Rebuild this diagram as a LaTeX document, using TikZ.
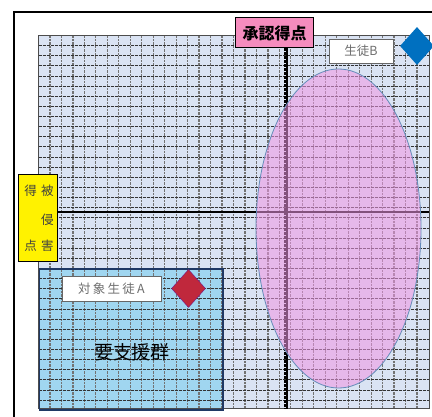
\documentclass[tikz,border=0pt]{standalone}
\usepackage{fontspec}
\newfontfamily\jp{Noto Sans CJK JP}
\usetikzlibrary{shapes.geometric}
\definecolor{gridbg}{RGB}{218,227,243}
\definecolor{supbg}{RGB}{160,214,240}
\definecolor{supedge}{RGB}{31,56,100}
\definecolor{ellfill}{RGB}{240,150,228}
\definecolor{elledge}{RGB}{100,140,185}
\definecolor{pinkbox}{RGB}{245,140,190}
\definecolor{bluedia}{RGB}{0,112,192}
\definecolor{reddia}{RGB}{192,40,60}
\definecolor{txtgray}{RGB}{110,110,110}
\tikzset{
  hline/.style={black!80,line width=0.9pt,dash pattern=on 3pt off 1pt},
  vline/.style={black!55,line width=1.2pt,dash pattern=on 2.5pt off 1pt},
  labelbox/.style={draw=black!60,fill=white,line width=0.8pt,inner sep=0pt,text=txtgray,font=\jp\fontsize{12.5}{14}\selectfont},
  dia/.style={shape=diamond,inner sep=0pt,minimum width=34pt,minimum height=38pt},
  ychar/.style={font=\jp\fontsize{12.5}{14}\selectfont,text=black!75,inner sep=0pt}
}
\begin{document}
\begin{tikzpicture}[x=1pt,y=-1pt]
\useasboundingbox (0,0) rectangle (432,417);
\fill[white] (0,0) rectangle (432,417);
% outer frame
\draw[black,line width=1.6pt] (14,430) -- (14,12) -- (440,12);
% grid background
\fill[gridbg] (38.5,35.5) rectangle (429,409);
% support group fill
\fill[supbg] (38.5,268) rectangle (222,409);
% grid lines
\foreach \k in {1,...,33} {\draw[vline] ({38.5+\k*11.47},35.5) -- ({38.5+\k*11.47},409);}
\foreach \k in {1,...,36} {\draw[hline] (38.5,{35.5+\k*10.13}) -- (429,{35.5+\k*10.13});}
\draw[black!70,line width=1pt] (38.5,35.5) rectangle (429,409);
% support group border
\node[draw=supedge,line width=1.8pt,minimum width=183.5pt,minimum height=141pt,inner sep=0pt,anchor=north west] (sup) at (38.5,268) {};
% axes
\coordinate (xl) at (57,212);
\coordinate (xr) at (429,212);
\coordinate (yt) at (286,48);
\coordinate (yb) at (286,409);
\draw[black,line width=2.6pt] (xl) -- (xr);
\draw[black,line width=2pt] ([xshift=0.8pt]yt) -- ([xshift=0.8pt]yb);
\draw[black,line width=4pt,dash pattern=on 2.6pt off 1.4pt] ([xshift=-0.4pt]yt) -- ([xshift=-0.4pt]yb);
% ellipse
\node[ellipse,fill=ellfill,fill opacity=0.55,draw=elledge,draw opacity=1,line width=0.8pt,minimum width=165pt,minimum height=319pt,inner sep=0pt] (ell) at (338.5,228.5) {};
% y-axis label
\node[draw=black,fill=pinkbox,line width=1pt,minimum width=78pt,minimum height=30pt,inner sep=0pt,font=\jp\bfseries\fontsize{16}{18}\selectfont] (ylab) at (274.5,33) {承認得点};
% x-axis label (yellow)
\node[draw=black,fill=yellow,line width=1pt,minimum width=39pt,minimum height=87pt,inner sep=0pt,anchor=north west] (xlab) at (18,174) {};
\node[ychar] (c1) at (30.5,190.5) {得};
\node[ychar] (c2) at (47.5,190.5) {被};
\node[ychar] (c3) at (47.5,219.5) {侵};
\node[ychar] (c4) at (30.5,246) {点};
\node[ychar] (c5) at (47.5,246) {害};
% student B
\node[labelbox,minimum width=64pt,minimum height=24pt] (sb) at (361,51) {生徒B};
\node[dia,fill=bluedia] (db) at (417,46) {};
% student A
\node[labelbox,minimum width=99pt,minimum height=25pt] (sa) at (111.5,288.5) {\addfontfeature{LetterSpace=18}対象生徒A};
\node[dia,fill=reddia,draw=reddia!60!blue,line width=0.4pt] (da) at (188.5,288.5) {};
% group name
\node[font=\jp\fontsize{19}{22}\selectfont,inner sep=0pt] (gname) at (132,352) {要支援群};
\end{tikzpicture}
\end{document}
